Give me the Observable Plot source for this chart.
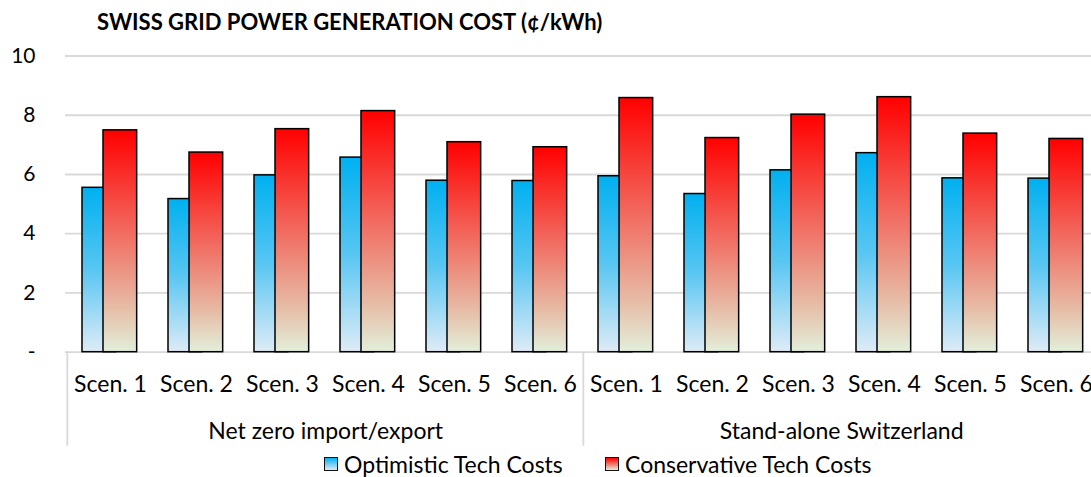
<!DOCTYPE html>
<html>
<head>
<meta charset="utf-8">
<script src="https://cdn.jsdelivr.net/npm/d3@7"></script>
<script src="https://cdn.jsdelivr.net/npm/@observablehq/plot@0.6"></script>
<style>
  html, body { margin: 0; padding: 0; background: #fff; }
  body { width: 1091px; height: 477px; overflow: hidden; font-family: Lato, "Open Sans", sans-serif; color: #000; }
  #title { height: 40px; box-sizing: border-box; padding-left: 97px; padding-top: 8px; font-weight: bold; font-size: 22px; line-height: 28px; white-space: nowrap; }
  #chart svg { display: block; }
  #legend { position: relative; height: 27px; font-size: 23px; }
  .item { position: absolute; top: 2px; display: flex; align-items: center; height: 24px; white-space: nowrap; }
  .item span { line-height: 24px; }
  .sw { width: 12px; height: 12px; border: 1.5px solid #111; margin-right: 6px; }
</style>
</head>
<body>
<div id="title">SWISS GRID POWER GENERATION COST (¢/kWh)</div>
<div id="chart"></div>
<div id="legend"></div>
<script>
// ---- data ----
const groups = ["Net zero import/export", "Stand-alone Switzerland"];
const scenarios = ["Scen. 1", "Scen. 2", "Scen. 3", "Scen. 4", "Scen. 5", "Scen. 6"];
const optimistic   = [5.55, 5.17, 5.97, 6.57, 5.79, 5.78, 5.94, 5.34, 6.14, 6.72, 5.87, 5.86];
const conservative = [7.49, 6.74, 7.53, 8.14, 7.09, 6.92, 8.58, 7.23, 8.02, 8.61, 7.38, 7.20];
const seriesNames = ["Optimistic Tech Costs", "Conservative Tech Costs"];
const yTicks = [0, 2, 4, 6, 8, 10];

// ---- derived table ----
const keys = [];
groups.forEach(g => scenarios.forEach(s => keys.push(g + "|" + s)));
const rows = keys.map((k, i) => ({key: k, opt: optimistic[i], cons: conservative[i]}));

// ---- layout ----
const W = 1091, H = 410;
const xRange = [65, 1101];
const bw = (xRange[1] - xRange[0]) / keys.length;
const barW = 34;
const blueInL = 15, redInL = 36;
const font = "Lato, 'Open Sans', sans-serif";

const plot = Plot.plot({
  width: W,
  height: H,
  marginTop: 15.5,
  marginBottom: 98.3,
  marginLeft: 65,
  marginRight: 0,
  style: {fontFamily: font, fontSize: "21px", color: "#000", background: "#fff"},
  x: {type: "band", domain: keys, range: xRange, padding: 0},
  y: {domain: [0, 10]},
  marks: [
    Plot.ruleY(yTicks.filter(d => d > 0), {stroke: "#d9d9d9", strokeWidth: 1.8}),
    Plot.ruleY([0], {stroke: "#d9d9d9", strokeWidth: 1.8}),
    Plot.ruleX([keys[0], keys[6]], {x: d => d, dx: -bw / 2, y1: 0, y2: 0, insetBottom: -94, stroke: "#d9d9d9", strokeWidth: 1.8}),
    Plot.barY(rows, {x: "key", y: "opt", fill: "url(#gBlue)", stroke: "#000", strokeWidth: 1.5,
      insetLeft: blueInL, insetRight: bw - blueInL - barW}),
    Plot.barY(rows, {x: "key", y: "cons", fill: "url(#gRed)", stroke: "#000", strokeWidth: 1.5,
      insetLeft: redInL, insetRight: bw - redInL - barW}),
    Plot.axisY({ticks: yTicks, tickFormat: d => d === 0 ? "-" : d, tickSize: 0, tickPadding: 30, fontSize: 21, label: null}),
    Plot.axisX({tickFormat: k => k.split("|")[1], tickSize: 0, tickPadding: 23, fontSize: 23, label: null}),
    Plot.text(groups.map(g => ({key: g + "|" + scenarios[2], label: g})),
      {x: "key", text: "label", frameAnchor: "bottom", dx: bw / 2, dy: 87, fontSize: 23, fill: "#000"})
  ]
});

// gradients
const defs = d3.select(plot).insert("defs", ":first-child");
const gb = defs.append("linearGradient").attr("id", "gBlue").attr("x1", 0).attr("y1", 0).attr("x2", 0).attr("y2", 1);
gb.append("stop").attr("offset", "0%").attr("stop-color", "#00B0F0");
gb.append("stop").attr("offset", "50%").attr("stop-color", "#58C6F2");
gb.append("stop").attr("offset", "100%").attr("stop-color", "#DEEBF7");
const gr = defs.append("linearGradient").attr("id", "gRed").attr("x1", 0).attr("y1", 0).attr("x2", 0).attr("y2", 1);
gr.append("stop").attr("offset", "0%").attr("stop-color", "#FF0000");
gr.append("stop").attr("offset", "50%").attr("stop-color", "#F07468");
gr.append("stop").attr("offset", "80%").attr("stop-color", "#E6BCA6");
gr.append("stop").attr("offset", "100%").attr("stop-color", "#E2EFDA");

document.getElementById("chart").appendChild(plot);

// legend
const legend = d3.select("#legend");
const grads = ["linear-gradient(#00B0F0, #DEEBF7)", "linear-gradient(#FF0000, #F07468, #E2EFDA)"];
const lefts = [324, 605];
seriesNames.forEach((n, i) => {
  const it = legend.append("div").attr("class", "item").style("left", lefts[i] + "px");
  it.append("div").attr("class", "sw").style("background", grads[i]);
  it.append("span").text(n);
});
</script>
</body>
</html>
